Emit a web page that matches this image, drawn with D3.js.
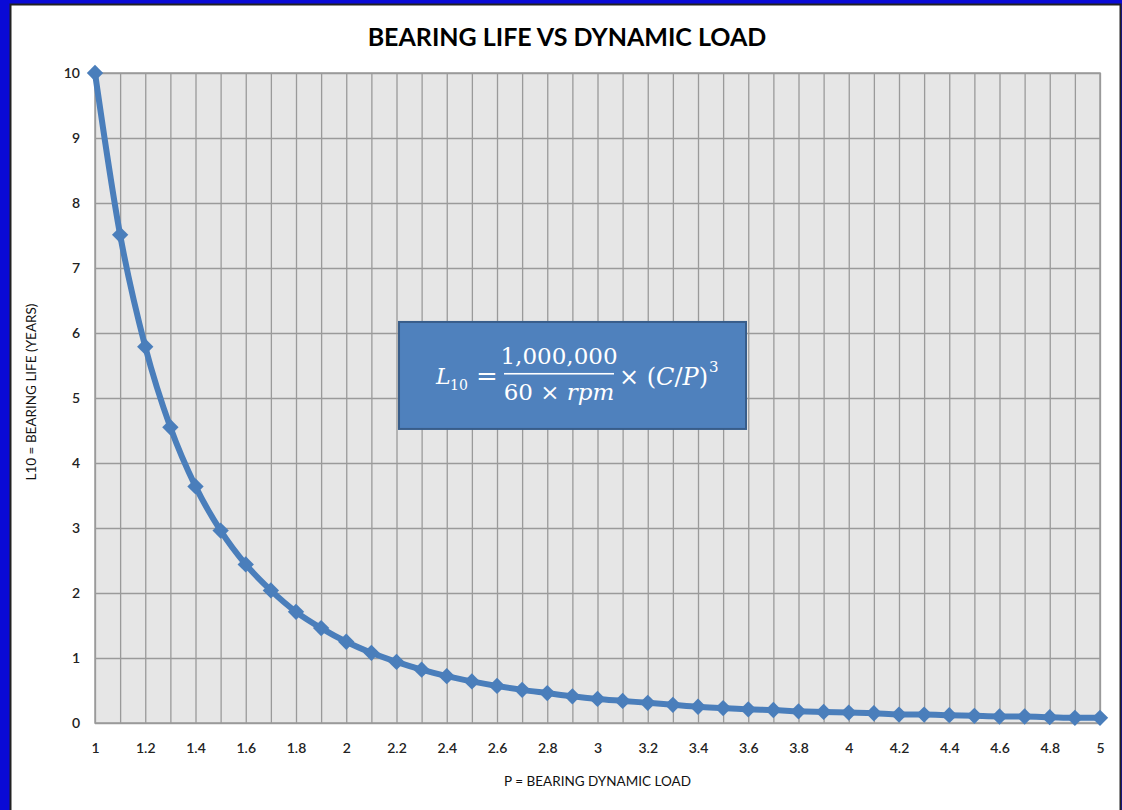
<!DOCTYPE html>
<html>
<head>
<meta charset="utf-8">
<script src="https://cdn.jsdelivr.net/npm/d3@7"></script>
<style>
  html, body { margin: 0; padding: 0; background: #0a0ad6; }
  svg { display: block; }
</style>
</head>
<body>
<div id="chart"></div>
<script>
// Bearing life vs dynamic load
const LOADS = [1.0, 1.1, 1.2, 1.3, 1.4, 1.5, 1.6, 1.7, 1.8, 1.9,
               2.0, 2.1, 2.2, 2.3, 2.4, 2.5, 2.6, 2.7, 2.8, 2.9,
               3.0, 3.1, 3.2, 3.3, 3.4, 3.5, 3.6, 3.7, 3.8, 3.9,
               4.0, 4.1, 4.2, 4.3, 4.4, 4.5, 4.6, 4.7, 4.8, 4.9, 5.0];
const LIFE = [10, 7.51, 5.79, 4.55, 3.64, 2.96, 2.44, 2.04, 1.71, 1.46,
              1.25, 1.08, 0.94, 0.82, 0.72, 0.64, 0.57, 0.51, 0.46, 0.41,
              0.37, 0.34, 0.31, 0.28, 0.25, 0.23, 0.21, 0.20, 0.18, 0.17,
              0.16, 0.15, 0.13, 0.13, 0.12, 0.11, 0.10, 0.10, 0.09, 0.08, 0.08];
const X_TICKS = [1, 1.2, 1.4, 1.6, 1.8, 2, 2.2, 2.4, 2.6, 2.8, 3, 3.2, 3.4, 3.6, 3.8, 4, 4.2, 4.4, 4.6, 4.8, 5];
const X_GRID = LOADS;
const Y_TICKS = [0, 1, 2, 3, 4, 5, 6, 7, 8, 9, 10];

const TITLE = "BEARING LIFE VS DYNAMIC LOAD";
const X_TITLE = "P = BEARING DYNAMIC LOAD";
const Y_TITLE = "L10 = BEARING LIFE (YEARS)";

const totalW = 1122, totalH = 810;
const margin = { top: 73, right: 22, bottom: 87, left: 95 };
const W = totalW - margin.left - margin.right;
const H = totalH - margin.top - margin.bottom;
const FONT = "Lato, 'Open Sans', sans-serif";

const svg = d3.select("#chart").append("svg")
  .attr("width", totalW).attr("height", totalH);

/* ── Frame ── */
svg.append("rect").attr("x", 10.5).attr("y", 4.5).attr("width", 1110).attr("height", 820)
  .attr("fill", "#fff").attr("stroke", "#222").attr("stroke-width", 2);

svg.append("text").attr("x", 567).attr("y", 46)
  .attr("text-anchor", "middle").attr("font-family", FONT)
  .attr("font-size", 25).attr("font-weight", "bold").attr("fill", "#000")
  .text(TITLE);

const g = svg.append("g").attr("transform", `translate(${margin.left},${margin.top})`);

/* ── Scales ── */
const x = d3.scaleLinear().domain([1, 5]).range([0, W]);
const y = d3.scaleLinear().domain([0, 10]).range([H, 0]);

g.append("rect").attr("width", W).attr("height", H).attr("fill", "#e6e6e6");

/* ── Grid ── */
g.append("g").attr("transform", `translate(0,${H})`)
  .call(d3.axisBottom(x).tickValues(X_GRID).tickSize(-H).tickFormat(""))
  .call(ax => { ax.select(".domain").remove(); ax.selectAll("line").attr("stroke", "#9a9a9a").attr("stroke-width", 1.3); });

g.append("g")
  .call(d3.axisLeft(y).tickValues(Y_TICKS).tickSize(-W).tickFormat(""))
  .call(ax => { ax.select(".domain").remove(); ax.selectAll("line").attr("stroke", "#9a9a9a").attr("stroke-width", 1.3); });

g.append("rect").attr("width", W).attr("height", H)
  .attr("fill", "none").attr("stroke", "#9a9a9a").attr("stroke-width", 1.5);

/* ── Axes ── */
g.append("g").attr("transform", `translate(0,${H})`)
  .call(d3.axisBottom(x).tickValues(X_TICKS).tickSize(0).tickPadding(20).tickFormat(d3.format("~g")))
  .call(ax => ax.select(".domain").remove())
  .selectAll("text").attr("font-family", FONT).attr("font-size", 14).attr("font-weight", 600).attr("fill", "#222");

g.append("g")
  .call(d3.axisLeft(y).tickValues(Y_TICKS).tickSize(0).tickPadding(15).tickFormat(d3.format("d")))
  .call(ax => ax.select(".domain").remove())
  .selectAll("text").attr("font-family", FONT).attr("font-size", 14).attr("font-weight", 600).attr("fill", "#222");

/* ── Axis labels ── */
g.append("text").attr("x", W / 2).attr("y", H + 63)
  .attr("text-anchor", "middle").attr("font-family", FONT).attr("font-size", 13.5).attr("fill", "#111")
  .text(X_TITLE);

g.append("text").attr("transform", "rotate(-90)").attr("x", -H / 2 + 6).attr("y", -59)
  .attr("text-anchor", "middle").attr("font-family", FONT).attr("font-size", 13.5).attr("fill", "#111")
  .text(Y_TITLE);

/* ── Formula box ── */
const box = g.append("g").attr("transform", `translate(${x(2.21)},${y(6.17)})`);
box.append("rect").attr("width", 347).attr("height", 107)
  .attr("fill", "#4f81bd").attr("stroke", "#385d8a").attr("stroke-width", 2);
const MATH = "'DejaVu Serif', 'Liberation Serif', serif";
const ft = box.append("g").attr("fill", "#fff").attr("font-family", MATH);
ft.append("text").attr("x", 37).attr("y", 62).attr("font-size", 22).attr("font-style", "italic").text("L");
ft.append("text").attr("x", 51).attr("y", 68).attr("font-size", 14).text("10");
ft.append("text").attr("x", 77).attr("y", 63).attr("font-size", 26).text("=");
ft.append("text").attr("x", 160).attr("y", 42).attr("text-anchor", "middle").attr("font-size", 23).text("1,000,000");
ft.append("rect").attr("x", 105).attr("y", 51).attr("width", 110).attr("height", 1.6);
const den = ft.append("text").attr("x", 160).attr("y", 78).attr("text-anchor", "middle").attr("font-size", 23);
den.append("tspan").text("60 × ");
den.append("tspan").attr("font-style", "italic").text("rpm");
const rhs = ft.append("text").attr("x", 220).attr("y", 63).attr("font-size", 24);
rhs.append("tspan").text("× (");
rhs.append("tspan").attr("font-style", "italic").text("C");
rhs.append("tspan").text("/");
rhs.append("tspan").attr("font-style", "italic").text("P");
rhs.append("tspan").text(")");
const rb = rhs.node().getBBox();
ft.append("text").attr("x", rb.x + rb.width + 1).attr("y", 50).attr("font-size", 15).text("3");

/* ── Line + diamond markers ── */
const data = LOADS.map((p, i) => ({ p, life: LIFE[i] }));

g.append("path").datum(data)
  .attr("fill", "none").attr("stroke", "#4a7ebb").attr("stroke-width", 6)
  .attr("stroke-linejoin", "round")
  .attr("d", d3.line().x(d => x(d.p)).y(d => y(d.life)).curve(d3.curveMonotoneX));

g.selectAll(".marker").data(data).join("path")
  .attr("class", "marker")
  .attr("transform", d => `translate(${x(d.p)},${y(d.life)})`)
  .attr("d", d3.symbol(d3.symbolDiamond2, 170))
  .attr("fill", "#4a7ebb");
</script>
</body>
</html>
